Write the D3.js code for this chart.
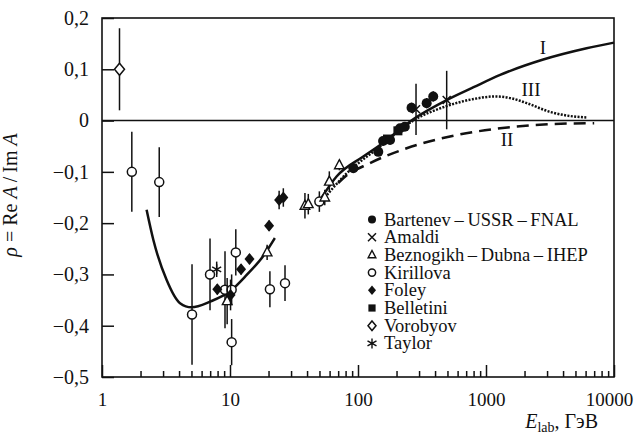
<!DOCTYPE html>
<html>
<head>
  <meta charset="utf-8">
  <script src="https://d3js.org/d3.v7.min.js"></script>
  <style>
    body { margin: 0; background: #fff; }
    svg text { font-family: "Liberation Serif", "DejaVu Serif", serif; fill: #111; }
  </style>
</head>
<body>
<svg></svg>
<script>
// ---- data (energy in GeV, rho, error) ----
var vorobyovE = [1.37], vorobyovR = [0.10], vorobyovErr = [0.08];

var kirillovaE   = [1.71, 2.8, 5.05, 6.98, 9.14, 10.3, 11.1, 10.3, 20.5, 26.9, 49.9];
var kirillovaR   = [-0.10, -0.12, -0.378, -0.30, -0.33, -0.33, -0.257, -0.432, -0.329, -0.317, -0.158];
var kirillovaErr = [0.078, 0.068, 0.098, 0.07, 0.075, 0.03, 0.045, 0.045, 0.035, 0.035, 0.02];

var foleyE   = [7.96, 10.1, 12.2, 14.2, 20.2, 24.2, 26.1];
var foleyR   = [-0.329, -0.340, -0.290, -0.270, -0.205, -0.155, -0.150];
var foleyErr = [0.01, 0.03, 0.01, 0.01, 0.01, 0.018, 0.018];

var taylorE = [7.87], taylorR = [-0.29], taylorErr = [0.015];

var beznogikhE   = [9.5, 19.5, 38.5, 40.9, 55, 59.7, 71.5];
var beznogikhR   = [-0.352, -0.257, -0.166, -0.163, -0.150, -0.119, -0.087];
var beznogikhErr = [0.045, 0.015, 0.025, 0.02, 0.015, 0.02, 0.01];

var bartenevE   = [92, 144, 157, 178, 213, 232, 262, 344, 387];
var bartenevR   = [-0.093, -0.061, -0.040, -0.038, -0.015, -0.012, 0.025, 0.034, 0.047];
var bartenevErr = [0.008, 0.008, 0.008, 0.008, 0.008, 0.008, 0.01, 0.01, 0.01];

var amaldiE   = [284, 493];
var amaldiR   = [0.022, 0.040];
var amaldiErr = [0.05, 0.057];

var belletiniE = [170, 205];
var belletiniR = [-0.036, -0.020];

// model curves
var curveILowE  = [2.23, 2.52, 3.2, 4.07, 5.0, 7.0, 10, 13.5, 18.2, 22.4];
var curveILowR  = [-0.174, -0.233, -0.311, -0.356, -0.364, -0.353, -0.333, -0.301, -0.264, -0.229];
var curveIHighE = [52, 68, 110, 148, 279, 493, 800, 1290, 2800, 6110, 10000];
var curveIHighR = [-0.150, -0.109, -0.070, -0.048, 0.005, 0.040, 0.065, 0.089, 0.119, 0.141, 0.152];
var curveIIE    = [70, 77, 124, 240, 523, 1287, 3160, 7000];
var curveIIR    = [-0.122, -0.112, -0.083, -0.054, -0.031, -0.015, -0.007, -0.005];
var curveIIIE   = [55, 80, 150, 270, 490, 800, 1180, 1600, 2080, 3160, 4500, 6120];
var curveIIIR   = [-0.15, -0.105, -0.05, 0.0, 0.028, 0.042, 0.047, 0.043, 0.034, 0.017, 0.009, 0.006];

var legendNames = ["Bartenev\u2009\u2013\u2009USSR\u2009\u2013\u2009FNAL", "Amaldi",
  "Beznogikh\u2009\u2013\u2009Dubna\u2009\u2013\u2009IHEP", "Kirillova", "Foley",
  "Belletini", "Vorobyov", "Taylor"];
var legendSymbols = ["fcircle", "cross", "triangle", "ocircle", "fdiamond", "square", "odiamond", "star"];

var yTicks = [0.2, 0.1, 0, -0.1, -0.2, -0.3, -0.4, -0.5];
var xTicks = [1, 10, 100, 1000, 10000];

// ---- layout ----
var width = 637, height = 436;
var svg = d3.select('svg').attr('width', width).attr('height', height);

var x = d3.scaleLog().domain([1, 10000]).range([102, 614]);
var y = d3.scaleLinear().domain([-0.5, 0.2]).range([377, 18]);

var loc = d3.formatLocale({decimal: ",", thousands: " ", grouping: [3], currency: ["", ""], minus: "\u2212"});
var f1 = loc.format(".1f");

// minor ticks on x
var minor = [];
for (var d = 1; d < 10000; d *= 10)
  for (var k = 2; k <= 9; k++) minor.push(d * k);

svg.append('g')
  .attr('transform', 'translate(0,377)')
  .call(d3.axisBottom(x).tickValues(minor).tickSize(-6).tickFormat(''))
  .call(function (g) { g.select('.domain').remove(); });

var xAxis = svg.append('g')
  .attr('transform', 'translate(0,377)')
  .call(d3.axisBottom(x).tickValues(xTicks).tickSize(-12).tickPadding(16)
    .tickFormat(function (d) { return String(d); }));
xAxis.select('.domain').remove();
// last label sits against the page edge, nudge it in
xAxis.selectAll('.tick text').filter(function (d) { return d === 10000; }).attr('dx', -5);

var yAxis = svg.append('g')
  .attr('transform', 'translate(102,0)')
  .call(d3.axisLeft(y).tickValues(yTicks).tickSize(-12).tickPadding(13)
    .tickFormat(function (d) { return d === 0 ? "0" : f1(d); }));
yAxis.select('.domain').remove();

svg.selectAll('g').attr('font-family', null);
svg.selectAll('.tick line').attr('stroke', '#111').attr('stroke-width', 1.5);
xAxis.selectAll('.tick text').attr('font-size', 19).style('font-size', '19px');
yAxis.selectAll('.tick text').attr('font-size', 20).style('font-size', '20px');

// frame
svg.append('rect')
  .attr('x', 102).attr('y', 18).attr('width', 512).attr('height', 359)
  .attr('fill', 'none').attr('stroke', '#111').attr('stroke-width', 1.6);

// zero line
svg.append('line')
  .attr('x1', 102).attr('x2', 614).attr('y1', y(0)).attr('y2', y(0))
  .attr('stroke', '#111').attr('stroke-width', 1.6);

// ---- curves ----
var line = d3.line()
  .x(function (d) { return x(d[0]); })
  .y(function (d) { return y(d[1]); })
  .curve(d3.curveMonotoneX);

function drawCurve(es, rs, dash) {
  svg.append('path')
    .datum(d3.zip(es, rs))
    .attr('d', line)
    .attr('fill', 'none')
    .attr('stroke', '#111')
    .attr('stroke-width', 2.5)
    .attr('stroke-dasharray', dash);
}
drawCurve(curveILowE, curveILowR, null);
drawCurve(curveIHighE, curveIHighR, null);
drawCurve(curveIIE, curveIIR, '12,7');
drawCurve(curveIIIE, curveIIIR, '2,1.4');

svg.append('text').attr('x', 543).attr('y', 54).attr('text-anchor', 'middle').style('font-size', '19px').text('I');
svg.append('text').attr('x', 531).attr('y', 96).attr('text-anchor', 'middle').style('font-size', '19px').text('III');
svg.append('text').attr('x', 507).attr('y', 146).attr('text-anchor', 'middle').style('font-size', '19px').text('II');

// ---- markers ----
function symbol(g, type, s) {
  s = s || 1;
  if (type === 'fcircle') g.append('circle').attr('r', 5 * s).attr('fill', '#111');
  else if (type === 'ocircle') g.append('circle').attr('r', 4.5 * s).attr('fill', '#fff').attr('stroke', '#111').attr('stroke-width', 1.5);
  else if (type === 'fdiamond') g.append('path').attr('d', 'M0,' + (-6 * s) + 'L' + (5 * s) + ',0L0,' + (6 * s) + 'L' + (-5 * s) + ',0Z').attr('fill', '#111');
  else if (type === 'odiamond') g.append('path').attr('d', 'M0,' + (-6 * s) + 'L' + (5 * s) + ',0L0,' + (6 * s) + 'L' + (-5 * s) + ',0Z').attr('fill', '#fff').attr('stroke', '#111').attr('stroke-width', 1.5);
  else if (type === 'triangle') g.append('path').attr('d', 'M0,' + (-5.5 * s) + 'L' + (4.8 * s) + ',' + (3.5 * s) + 'L' + (-4.8 * s) + ',' + (3.5 * s) + 'Z').attr('fill', '#fff').attr('stroke', '#111').attr('stroke-width', 1.4);
  else if (type === 'square') g.append('rect').attr('x', -4.5 * s).attr('y', -4.5 * s).attr('width', 9 * s).attr('height', 9 * s).attr('fill', '#111');
  else if (type === 'cross') g.append('path').attr('d', 'M-4,-4L4,4M-4,4L4,-4').attr('stroke', '#111').attr('stroke-width', 1.5);
  else if (type === 'star') g.append('path').attr('d', 'M0,-5L0,5M-4.5,-2.5L4.5,2.5M-4.5,2.5L4.5,-2.5').attr('stroke', '#111').attr('stroke-width', 1.4);
}

function drawSeries(es, rs, errs, type) {
  var data = es.map(function (e, i) { return {e: e, r: rs[i], err: errs ? errs[i] : 0}; });
  svg.append('g').selectAll('line')
    .data(data.filter(function (d) { return d.err > 0; }))
    .enter().append('line')
    .attr('x1', function (d) { return x(d.e); })
    .attr('x2', function (d) { return x(d.e); })
    .attr('y1', function (d) { return y(d.r - d.err); })
    .attr('y2', function (d) { return y(d.r + d.err); })
    .attr('stroke', '#111').attr('stroke-width', 1.5);
  svg.append('g').selectAll('g')
    .data(data).enter().append('g')
    .attr('transform', function (d) { return 'translate(' + x(d.e) + ',' + y(d.r) + ')'; })
    .each(function () { symbol(d3.select(this), type); });
}

drawSeries(vorobyovE, vorobyovR, vorobyovErr, 'odiamond');
drawSeries(kirillovaE, kirillovaR, kirillovaErr, 'ocircle');
drawSeries(beznogikhE, beznogikhR, beznogikhErr, 'triangle');
drawSeries(foleyE, foleyR, foleyErr, 'fdiamond');
drawSeries(taylorE, taylorR, taylorErr, 'star');
drawSeries(belletiniE, belletiniR, null, 'square');
drawSeries(bartenevE, bartenevR, bartenevErr, 'fcircle');
drawSeries(amaldiE, amaldiR, amaldiErr, 'cross');

// ---- legend ----
var legend = svg.append('g').selectAll('g')
  .data(legendNames).enter().append('g')
  .attr('transform', function (d, i) { return 'translate(372,' + (219.5 + i * 17.7) + ')'; });
legend.each(function (d, i) { symbol(d3.select(this), legendSymbols[i], 0.8); });
legend.append('text')
  .attr('x', 12).attr('y', 6)
  .style('font-size', '18.5px')
  .text(function (d) { return d; });

// ---- axis titles ----
var xt = svg.append('text').attr('x', 598).attr('y', 428).attr('text-anchor', 'end').style('font-size', '20px');
xt.append('tspan').style('font-style', 'italic').text('E');
xt.append('tspan').attr('dy', 4).style('font-size', '14px').text('lab');
xt.append('tspan').attr('dy', -4).text(', \u0413\u044d\u0412');

var yt = svg.append('text')
  .attr('transform', 'translate(17,195) rotate(-90)')
  .attr('text-anchor', 'middle')
  .style('font-size', '20px');
yt.append('tspan').style('font-style', 'italic').text('\u03c1');
yt.append('tspan').text(' = Re ');
yt.append('tspan').style('font-style', 'italic').text('A');
yt.append('tspan').text('\u2009/\u2009Im ');
yt.append('tspan').style('font-style', 'italic').text('A');
</script>
</body>
</html>
